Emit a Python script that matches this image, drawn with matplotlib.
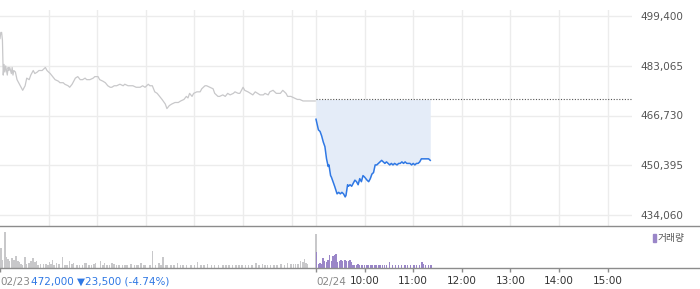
import matplotlib
matplotlib.use('Agg')
import matplotlib.pyplot as plt
from matplotlib.lines import Line2D
from matplotlib.patches import Rectangle

# minutes since 09:00 of 02/23; 02/24 session starts at minute 390
DAY = 390

# 02/23 price (gray line)
prev_min = [0, 1, 2, 3, 4, 5, 6, 7, 9, 10, 11, 12, 14, 15, 16, 17, 19, 21, 25, 28,
            31, 33, 36, 38, 41, 43, 46, 48, 52, 56, 58, 62, 65, 68, 72, 74, 78, 80, 84, 86,
            89, 93, 96, 99, 102, 105, 107, 111, 115, 117, 121, 123, 127, 130, 133, 136, 138, 141, 144, 148,
            152, 154, 158, 160, 164, 168, 173, 176, 179, 183, 185, 188, 191, 194, 197, 200, 204, 206, 209, 212,
            216, 220, 223, 227, 230, 232, 234, 237, 239, 243, 247, 249, 253, 255, 259, 263, 265, 269, 271, 275,
            278, 281, 284, 288, 290, 294, 296, 300, 302, 306, 309, 312, 315, 318, 321, 325, 327, 331, 333, 337,
            341, 346, 349, 353, 355, 359, 363, 367, 370, 374, 383, 389]
prev_price = [492000, 494000, 494000, 491500, 480000, 483500, 481000, 483000, 480000, 482500,
              481500, 482500, 480500, 482500, 480000, 481500, 481000, 478500, 476500, 475000,
              476500, 479000, 478500, 480000, 481500, 480500, 481000, 481500, 481500, 482500,
              481500, 480500, 479500, 478500, 478000, 477500, 477500, 477000, 476500, 476000,
              477000, 479000, 479500, 478500, 478500, 479000, 478500, 478500, 479000, 479500,
              479500, 478500, 478000, 477500, 476500, 476000, 476000, 476500, 476500, 477000,
              476500, 477000, 476500, 476500, 476500, 476000, 476000, 476500, 476000, 477000,
              476500, 476500, 474500, 474000, 473000, 472000, 470500, 469000, 470000, 470500,
              471000, 471000, 471500, 472000, 473000, 472500, 474000, 473000, 474000, 474500,
              474500, 475500, 476500, 476500, 476000, 475500, 474000, 473000, 473000, 473500,
              473000, 474000, 473500, 474000, 474500, 474000, 474000, 476000, 475000, 474500,
              474000, 473500, 474500, 474000, 473500, 473500, 474000, 473500, 474500, 475000,
              474000, 474000, 475000, 474000, 473000, 473000, 472500, 472000, 472000, 471500,
              471500, 471500]

# 02/24 price (blue line), minutes since 09:00
cur_min = [0, 3, 5, 7, 9, 11, 13, 15, 16, 18, 19, 21, 23, 26, 28, 30, 32, 34, 36, 37,
           39, 40, 42, 44, 46, 48, 50, 52, 54, 56, 58, 60, 63, 65, 67, 69, 71, 73, 75, 77,
           79, 81, 83, 85, 87, 89, 91, 93, 95, 97, 100, 102, 104, 106, 108, 110, 112, 114, 116, 118,
           120, 122, 124, 126, 128, 130, 132, 134, 137, 139, 141]
cur_price = [465500, 462000, 461500, 460000, 458000, 456500, 452500, 450000, 450500, 447000,
             446500, 445000, 443500, 441000, 441500, 441000, 441500, 441000, 440000, 440500,
             444000, 443500, 444000, 443500, 444500, 445500, 445000, 444000, 446000, 445000,
             447000, 446500, 445500, 445000, 446000, 447500, 448000, 450500, 450500, 451000,
             451500, 452000, 451500, 451000, 451500, 451000, 450500, 451000, 450500, 451000,
             450500, 451000, 451000, 451500, 451000, 451500, 451000, 451000, 451000, 450500,
             451000, 450500, 451000, 451000, 451500, 452500, 452500, 452500, 452500, 452500,
             452000]

BASE_PRICE = 472000
y_ticks = [434060, 450395, 466730, 483065, 499400]

# volume (relative units)
prev_vol_min = [0, 2, 5, 7, 9, 11, 14, 16, 19, 21, 23, 25, 27, 30, 32, 35, 37, 40, 42, 44,
                46, 49, 53, 56, 58, 60, 62, 64, 66, 69, 72, 76, 79, 82, 85, 88, 90, 94, 97, 101,
                104, 106, 109, 112, 115, 117, 123, 126, 128, 131, 134, 137, 140, 143, 146, 150, 153, 156, 161, 165,
                168, 170, 173, 176, 178, 184, 187, 191, 195, 198, 200, 204, 206, 210, 214, 218, 222, 225, 229, 235,
                239, 243, 247, 251, 255, 260, 264, 269, 274, 278, 282, 286, 290, 294, 298, 302, 306, 310, 315, 319,
                323, 326, 329, 333, 337, 341, 346, 350, 354, 358, 361, 364, 367, 370, 373, 375, 377, 378, 389]
prev_vol = [60, 25, 108, 32, 28, 22, 30, 25, 37, 20, 18, 12, 10, 33, 12, 15, 20, 30, 18, 20,
            10, 12, 12, 12, 10, 18, 12, 23, 10, 15, 12, 32, 10, 10, 20, 12, 16, 10, 8, 8,
            14, 15, 8, 10, 12, 15, 20, 10, 14, 8, 10, 15, 12, 8, 10, 8, 8, 8, 12, 8,
            8, 8, 15, 8, 10, 8, 50, 8, 15, 8, 32, 8, 8, 8, 8, 15, 8, 10, 8, 10,
            10, 18, 8, 8, 12, 8, 8, 8, 10, 8, 8, 8, 10, 10, 8, 8, 8, 8, 15, 10,
            12, 10, 8, 8, 8, 10, 12, 10, 15, 13, 12, 12, 12, 20, 17, 28, 15, 12, 102]
cur_vol_min = [0, 2, 4, 6, 8, 10, 12, 14, 16, 18, 20, 22, 24, 26, 28, 30, 32, 35, 37, 39,
               41, 43, 45, 47, 49, 51, 53, 55, 57, 59, 62, 64, 67, 69, 72, 74, 77, 79, 81, 84,
               86, 90, 94, 97, 101, 105, 109, 112, 116, 120, 123, 127, 130, 132, 134, 138, 141]
cur_vol = [48, 12, 15, 12, 30, 20, 18, 25, 38, 22, 35, 40, 42, 18, 22, 23, 20, 25, 22, 22,
           25, 18, 10, 10, 10, 12, 10, 8, 8, 10, 8, 10, 8, 10, 8, 10, 8, 10, 8, 10,
           8, 18, 8, 10, 8, 8, 10, 8, 8, 8, 10, 8, 18, 12, 8, 8, 8]

tick_pos = [0, 390, 450, 510, 570, 630, 690, 750]
tick_labels = ['', '', '10:00', '11:00', '12:00', '13:00', '14:00', '15:00']
grid_x = [60, 120, 180, 240, 300, 360, 390, 450, 510, 570, 630, 690, 750]

GRAY = '#c8c8ca'
BLUE = '#2f78e4'
FILL = '#e4ecf8'
PURPLE = '#9a86c8'
GRID = '#ececec'
AXIS = '#8c8c8c'
TXT = '#555555'

plt.rcParams['font.family'] = ['DejaVu Sans', 'Noto Sans CJK KR']

fig = plt.figure(figsize=(7.0, 2.89), dpi=100)
ax = fig.add_axes([0, 63 / 289, 632 / 700, 216 / 289])
vax = fig.add_axes([0, 21 / 289, 632 / 700, 41 / 289])

px = 65340 / 4 / 49.75  # price per pixel
ax.set_xlim(0, 2 * DAY)
ax.set_ylim(434060 - 11 * px, 499400 + 6 * px)

for y in y_ticks:
    ax.axhline(y, color=GRID, lw=1, zorder=0)
for x in grid_x:
    ax.axvline(x, color=GRID, lw=1, zorder=0)

ax.plot(prev_min, prev_price, color=GRAY, lw=0.9, zorder=3)
cx = [DAY + m for m in cur_min]
ax.fill_between(cx, cur_price, BASE_PRICE, color=FILL, lw=0, zorder=1)
ax.plot(cx, cur_price, color=BLUE, lw=1.1, zorder=4)
ax.hlines(BASE_PRICE, DAY, 2 * DAY, colors='#555555', linestyles=(0, (1, 1.5)), lw=0.8, zorder=2)

ax.set_yticks(y_ticks)
ax.set_yticklabels([f'{v:,}' for v in y_ticks])
ax.yaxis.tick_right()
ax.tick_params(axis='y', length=0, pad=6, labelsize=7.5, labelcolor=TXT)
ax.set_xticks([])
for s in ax.spines.values():
    s.set_visible(False)

# volume panel
vax.set_xlim(0, 2 * DAY)
vax.set_ylim(0, 123)
vax.bar(prev_vol_min, prev_vol, width=1.9, color=GRAY, lw=0, align='edge')
vax.bar([DAY + m for m in cur_vol_min], cur_vol, width=1.6, color=PURPLE, lw=0, align='edge')
vax.set_yticks([])
vax.set_xticks(tick_pos)
vax.set_xticklabels(tick_labels)
vax.tick_params(axis='x', length=3, width=1, color=AXIS, pad=3, labelsize=7.5, labelcolor='#333333')
for s in vax.spines.values():
    s.set_visible(False)

# full-width separator lines
fig.add_artist(Line2D([0, 1], [63 / 289, 63 / 289], color=AXIS, lw=1))
fig.add_artist(Line2D([0, 1], [21 / 289, 21 / 289], color=AXIS, lw=1))

# date labels and price summary
lab_y = (289 - 282) / 289
fig.text(0, lab_y, '02/23', color='#888888', fontsize=7.5, ha='left', va='center')
fig.text(31 / 700, lab_y, '472,000 \u25bc23,500 (-4.74%)', color=BLUE, fontsize=7.5, ha='left', va='center')
fig.text(316 / 700, lab_y, '02/24', color='#888888', fontsize=7.5, ha='left', va='center')

# legend
fig.add_artist(Rectangle((653 / 700, 47 / 289), 3 / 700, 8 / 289, color=PURPLE, transform=fig.transFigure))
fig.text(658 / 700, 51 / 289, '거래량', color=TXT, fontsize=7, ha='left', va='center',
         family=['Noto Sans CJK KR', 'DejaVu Sans'])

fig.savefig('out.png', dpi=100, facecolor='white')
plt.close(fig)
